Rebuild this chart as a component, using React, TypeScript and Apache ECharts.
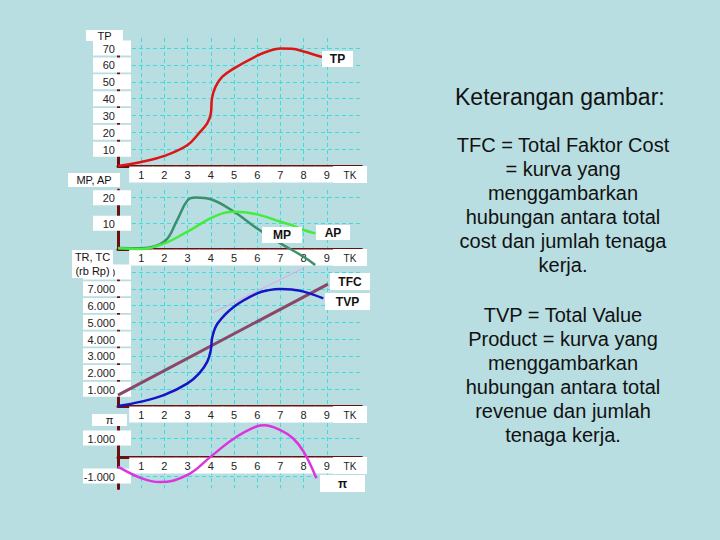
import React, { useEffect, useRef } from "react";
import * as echarts from "echarts";

// ---- data ----
const tkMax = 10.5;
const tkLabels = ["1", "2", "3", "4", "5", "6", "7", "8", "9"];
const tkName = "TK";

const tpData = [[0, 0], [1, 2.4], [2, 6], [3, 12.5], [3.5, 19.6], [3.85, 25.5], [4, 31], [4.05, 40], [4.2, 47], [4.5, 53], [5, 58], [6, 65.5], [6.5, 68.3], [7, 69.8], [7.5, 69.6], [8, 68], [8.8, 64.7]];
const mpData = [[0, 0.4], [1, 0.3], [2, 2.9], [2.55, 11.3], [3, 19], [3.35, 20.1], [4, 19.4], [5, 14.5], [6, 8], [7, 2.2], [8, -3], [8.5, -6.2]];
const apData = [[0, 0.3], [1, 0], [2, 2.2], [3, 6.8], [4, 12], [4.7, 14.3], [5, 14.5], [6, 13.5], [7, 10.6], [7.5, 9.3], [8, 7.4], [8.5, 6.1]];
const tvpData = [[0, 0], [1, 260], [2, 660], [3, 1350], [3.5, 1950], [3.85, 2650], [4, 3340], [4.07, 4140], [4.3, 4940], [5, 5930], [6, 6730], [6.5, 6920], [7, 6990], [7.5, 6950], [8, 6830], [8.85, 6430]];
const tfcData = [[0, 650], [9.05, 7280]];
const tangentData = [[4.1, 5570], [8, 8240]];
const profitData = [[0, -510], [1, -1120], [1.8, -1330], [3, -950], [4, 20], [5, 980], [6, 1630], [6.3, 1680], [7, 1420], [7.55, 980], [8, 280], [8.55, -1120]];

// panels: TP, MP/AP, TR/TC, π (upper, positive), π (lower, negative)
const yRanges = [
  { min: 0, max: 76, step: 10 },
  { min: 0, max: 23, step: 10 },
  { min: 0, max: 8300, step: 1000 },
  { min: 0, max: 1800, step: 1000 },
  { min: -1650, max: 0, step: 1000 },
];

const rightTitle = "Keterangan gambar:";
const para1 = ["TFC = Total Faktor Cost", "= kurva yang", "menggambarkan", "hubungan antara total", "cost dan jumlah tenaga", "kerja."];
const para2 = ["TVP = Total Value", "Product = kurva yang", "menggambarkan", "hubungan antara total", "revenue dan jumlah", "tenaga kerja."];

// ---- style ----
const BG = "#b8dee2";
const AXIS = "#6b1010";
const GRID = "#3fdcdc";
const FONT = "'Liberation Sans', Arial, sans-serif";

const grids = [
  { left: 118, top: 38, width: 243.6, height: 128 },
  { left: 118, top: 190, width: 243.6, height: 59 },
  { left: 118, top: 267, width: 243.6, height: 139 },
  { left: 118, top: 423, width: 243.6, height: 34 },
  { left: 118, top: 457, width: 243.6, height: 31.4 },
];

function thousand(v: number) {
  const s = String(Math.abs(v) / 1000) + ".000";
  return (v < 0 ? "-" : "") + s;
}

export default function App() {
  const ref = useRef<HTMLDivElement>(null);
  useEffect(() => {
    if (!ref.current) return;
    const chart = echarts.init(ref.current, null, { renderer: "svg" });
    const splitColors = [...Array(9).fill(GRID), "rgba(0,0,0,0)"];

    const xAxis = grids.map((_, i) => ({
      type: "value",
      gridIndex: i,
      min: 0,
      max: tkMax,
      interval: 1,
      axisLine: { show: i !== 4, onZero: false, lineStyle: { color: AXIS, width: 3 } },
      axisTick: { show: false },
      axisLabel: {
        show: i !== 4,
        margin: 2,
        showMinLabel: false,
        showMaxLabel: false,
        formatter: (v: number) => {
          if (v >= 1 && v <= 9) return `{b|${tkLabels[v - 1]}}`;
          if (v === 10) return `{t|${tkName}}`;
          return "";
        },
        rich: {
          b: { backgroundColor: "#fff", width: 16, height: 13, lineHeight: 13, align: "center", padding: [2, 4, 1, 4], fontSize: 11, color: "#222", fontFamily: FONT },
          t: { backgroundColor: "#fff", width: 26, height: 13, lineHeight: 13, align: "center", padding: [3, 4, 1, 4], fontSize: 10, color: "#222", fontFamily: FONT },
        },
      },
      splitLine: { show: true, showMinLine: false, showMaxLine: false, lineStyle: { color: splitColors, type: [4, 3], width: 1 } },
    }));

    const yAxis = grids.map((_, i) => {
      const r = yRanges[i];
      const wide = i >= 2;
      const base: any = {
        type: "value",
        gridIndex: i,
        min: r.min,
        max: r.max,
        axisLine: { show: true, onZero: false, lineStyle: { color: AXIS, width: 3 } },
        axisTick: { show: false },
        axisLabel: {
          margin: -13,
          showMinLabel: false,
          showMaxLabel: false,
          formatter: (v: number) => {
            if (v === 0 || v === r.min || v === r.max) return "";
            return `{b|${wide ? thousand(v) : v}}`;
          },
          rich: {
            b: { backgroundColor: "#fff", width: wide ? 30 : 20, height: 12, lineHeight: 12, align: "right", padding: [2, 16, 1, 2], fontSize: 11, color: "#222", fontFamily: FONT },
          },
        },
        splitLine: { show: true, showMinLine: false, showMaxLine: false, lineStyle: { color: GRID, type: [4, 3], width: 1 } },
      };
      if (r.min % r.step === 0) base.interval = r.step;
      else { base.minInterval = r.step; base.maxInterval = r.step; }
      return base;
    });

    const line = (name: string, data: number[][], idx: number, color: string, width = 2.5, smooth: any = 0.4) => ({
      type: "line",
      name,
      xAxisIndex: idx,
      yAxisIndex: idx,
      data,
      smooth,
      showSymbol: false,
      symbol: "none",
      clip: false,
      lineStyle: { color, width },
      silent: true,
      z: 3,
    });

    const rect = (x: number, y: number, w: number, h: number) => ({ type: "rect", shape: { x, y, width: w, height: h }, style: { fill: "#fff" }, z: 100, silent: true });
    const txt = (x: number, y: number, text: string, font: string) => ({ type: "text", x, y, style: { text, fill: "#111", font, align: "center", verticalAlign: "middle" }, z: 101, silent: true });
    const box = (x: number, y: number, w: number, h: number, text: string, font: string) => [rect(x, y, w, h), txt(x + w / 2, y + h / 2, text, font)];

    const boldF = `bold 12px ${FONT}`;
    const smallF = `11px ${FONT}`;

    const option: any = {
      animation: false,
      backgroundColor: BG,
      grid: grids.map((g) => ({ ...g, outerBoundsMode: "none", containLabel: false })),
      xAxis,
      yAxis,
      series: [
        line("TP", tpData, 0, "#dd1515"),
        line("MP", mpData, 1, "#3a8f6c"),
        line("AP", apData, 1, "#44ec3c"),
        line("tangent", tangentData, 2, "#e7a0e7", 1, false),
        line("TFC", tfcData, 2, "#8a4868", 3, false),
        line("TVP", tvpData, 2, "#1515c8"),
        line("π", profitData, 3, "#dd35dd"),
      ],
      graphic: [
        ...box(86, 30, 37, 11, "TP", smallF),
        ...box(322, 51, 31, 16, "TP", boldF),
        ...box(68, 173, 52, 14, "MP, AP", smallF),
        ...box(262, 227, 40, 16, "MP", boldF),
        ...box(316, 225, 34, 15, "AP", boldF),
        rect(72, 250, 41, 28),
        txt(92.5, 257, "TR, TC", smallF),
        txt(92.5, 271, "(rb Rp)", smallF),
        ...box(330, 273, 40, 17, "TFC", boldF),
        ...box(325, 293, 45, 17, "TVP", boldF),
        ...box(92, 414, 35, 12, "π", smallF),
        ...box(320, 475, 45, 17, "π", boldF),
        { type: "text", x: 455, y: 97, style: { text: rightTitle, fill: "#111", font: `23px ${FONT}`, align: "left", verticalAlign: "middle" }, z: 101 },
        { type: "text", x: 563, y: 133, style: { text: para1.join("\n"), fill: "#111", font: `20px ${FONT}`, align: "center", verticalAlign: "top", lineHeight: 24 }, z: 101 },
        { type: "text", x: 563, y: 303, style: { text: para2.join("\n"), fill: "#111", font: `20px ${FONT}`, align: "center", verticalAlign: "top", lineHeight: 24 }, z: 101 },
      ],
    };
    chart.setOption(option);
    return () => chart.dispose();
  }, []);
  return <div ref={ref} style={{ position: "fixed", left: 0, top: 0, width: 720, height: 540 }} />;
}
